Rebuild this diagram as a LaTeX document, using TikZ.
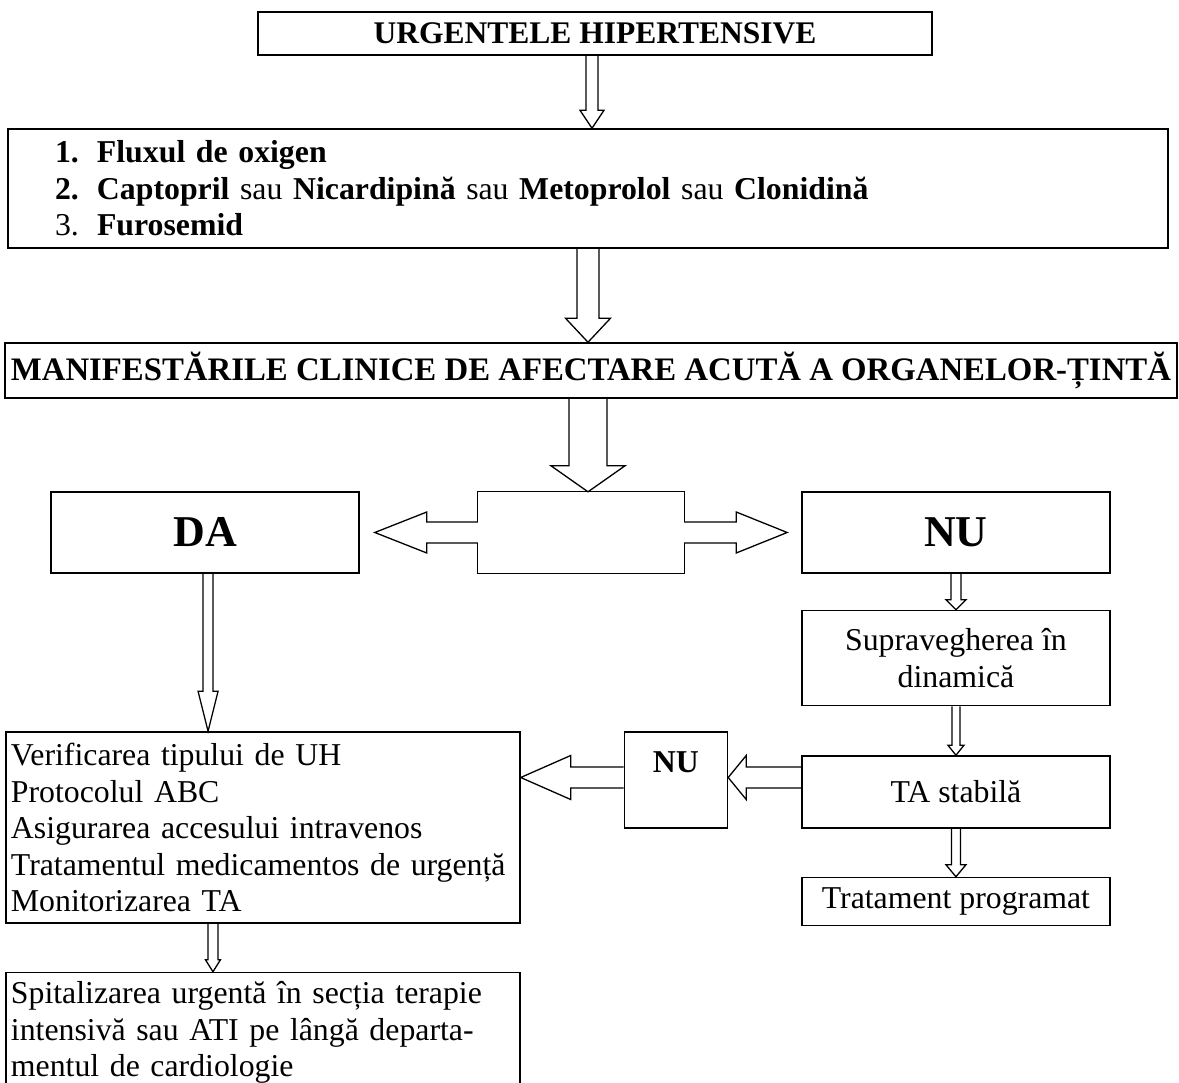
\documentclass[tikz,border=0pt]{standalone}
\usepackage{fontspec}
\setmainfont{Liberation Serif}
\usetikzlibrary{positioning, calc}

\begin{document}
\begin{tikzpicture}[
  x=1pt, y=-1pt,
  box/.style={draw, line width=1.5pt, inner sep=0pt,
              font=\fontsize{31.8}{36.5}\selectfont},
  head/.style={box, font=\fontsize{31.8}{36.5}\selectfont\bfseries},
  big/.style={box, font=\fontsize{44}{50}\selectfont\bfseries},
  listbox/.style={box, align=left, inner xsep=5pt, text width=504pt},
  blk/.style={line width=1.3pt},
  dnarrow/.style n args={3}{to path={
      ($(\tikztostart)+(-#1,0)$) -- ($(\tikztostart |- \tikztotarget)+(-#1,-#3)$)
      -- ($(\tikztostart |- \tikztotarget)+(-#2,-#3)$) -- (\tikztostart |- \tikztotarget)
      -- ($(\tikztostart |- \tikztotarget)+(#2,-#3)$)
      -- ($(\tikztostart |- \tikztotarget)+(#1,-#3)$) -- ($(\tikztostart)+(#1,0)$)}},
  lfarrow/.style n args={3}{to path={
      ($(\tikztostart)+(0,-#1)$) -- ($(\tikztostart -| \tikztotarget)+(#3,-#1)$)
      -- ($(\tikztostart -| \tikztotarget)+(#3,-#2)$) -- (\tikztostart -| \tikztotarget)
      -- ($(\tikztostart -| \tikztotarget)+(#3,#2)$)
      -- ($(\tikztostart -| \tikztotarget)+(#3,#1)$) -- ($(\tikztostart)+(0,#1)$)}},
  rtarrow/.style n args={3}{to path={
      ($(\tikztostart)+(0,-#1)$) -- ($(\tikztostart -| \tikztotarget)+(-#3,-#1)$)
      -- ($(\tikztostart -| \tikztotarget)+(-#3,-#2)$) -- (\tikztostart -| \tikztotarget)
      -- ($(\tikztostart -| \tikztotarget)+(-#3,#2)$)
      -- ($(\tikztostart -| \tikztotarget)+(-#3,#1)$) -- ($(\tikztostart)+(0,#1)$)}}
]
  \path[use as bounding box, fill=white] (0,0) rectangle (1179,1083);

  \node[head, font=\fontsize{31.5}{36}\selectfont\bfseries, minimum width=674pt,
        minimum height=43pt] (top) at (595,33.5) {URGENTELE HIPERTENSIVE};
  \node[box, align=left, inner xsep=47pt, text width=1066pt, minimum height=119pt]
        (lst) at (588,188.5) {%
    \makebox[42pt][l]{\textbf{1.}}\textbf{Fluxul de oxigen}\\
    \makebox[42pt][l]{\textbf{2.}}\textbf{Captopril} sau \textbf{Nicardipină} sau
      \textbf{Metoprolol} sau \textbf{Clonidină}\\
    \makebox[42pt][l]{3.}\textbf{Furosemid}};
  \node[head, font=\fontsize{32.8}{37}\selectfont\bfseries, minimum width=1172pt,
        minimum height=55pt] (manif) at (591,370.5)
        {MANIFESTĂRILE CLINICE DE AFECTARE ACUTĂ A ORGANELOR-ȚINTĂ};

  \node[minimum width=206pt, minimum height=81pt, inner sep=0pt] (mid) at (581,532.5) {};
  \node[big, minimum width=308pt, minimum height=81pt, left=118pt of mid] (da) {DA};
  \node[big, minimum width=308pt, minimum height=81pt, right=117pt of mid] (nu) {NU};

  \node[box, align=center, minimum width=308pt, minimum height=95pt, below=36pt of nu]
        (supr) {Supravegherea în\\dinamică};
  \node[box, minimum width=308pt, minimum height=72pt, below=49pt of supr] (ta) {TA stabilă};
  \node[box, minimum width=308pt, minimum height=48pt, below=48pt of ta] (trat)
        {Tratament programat};

  \node[box, minimum width=103pt, minimum height=96pt, left=73pt of ta, yshift=12pt] (nuta) {};
  \node[head, draw=none] (nutxt) at ([yshift=-31pt]nuta.north) {NU};

  \node[listbox, minimum height=191pt, left=103pt of nuta.north west, anchor=north east]
        (steps) {Verificarea tipului de UH\\
                 Protocolul ABC\\
                 Asigurarea accesului intravenos\\
                 Tratamentul medicamentos de urgență\\
                 Monitorizarea TA};
  \node[listbox, minimum height=120pt, below=48pt of steps] (hosp)
        {Spitalizarea urgentă în secția terapie\\
         intensivă sau ATI pe lângă departa-\\
         mentul de cardiologie};

  \coordinate (a1s) at ([xshift=-3pt]top.south);
  \coordinate (a3s) at ([xshift=-3pt]manif.south);
  \coordinate (datip) at ([xshift=15pt]da.east);
  \coordinate (nutip) at ([xshift=-14pt]nu.west);
  \coordinate (das) at ([xshift=3pt]da.south);
  \coordinate (tas) at ([yshift=14.5pt]ta.west);
  \coordinate (nus) at ([yshift=2.5pt]nuta.west);
  \coordinate (sts) at ([xshift=-50pt]steps.south);

  \draw[blk] (a1s) to[dnarrow={6}{12}{18}] (lst.north);
  \draw[blk] (lst.south) to[dnarrow={11}{22.5}{24}] (manif.north);
  \draw[blk] (a3s) to[dnarrow={19}{37}{26}] (mid.north);

  \draw[blk] ([yshift=10.5pt]mid.west) |- (mid.north east) -- ([yshift=10.5pt]mid.east);
  \draw[blk] ([yshift=-10.5pt]mid.west) |- (mid.south east) -- ([yshift=-10.5pt]mid.east);
  \draw[blk] (mid.west) to[lfarrow={10.5}{20.5}{52}] (datip);
  \draw[blk] (mid.east) to[rtarrow={10.5}{20.5}{51}] (nutip);

  \draw[blk] (das) to[dnarrow={5}{10}{40}] (steps.north);
  \draw[blk] (nu.south) to[dnarrow={5}{10}{10}] (supr.north);
  \draw[blk] (supr.south) to[dnarrow={4}{8}{10}] (ta.north);
  \draw[blk] (ta.south) to[dnarrow={4.5}{10}{12}] (trat.north);
  \draw[blk] (tas) to[lfarrow={10.5}{22}{18}] (nuta.east);
  \draw[blk] (nus) to[lfarrow={10.5}{22}{50}] (steps.east);
  \draw[blk] (sts) to[dnarrow={5}{7.5}{12}] (hosp.north);
\end{tikzpicture}
\end{document}
